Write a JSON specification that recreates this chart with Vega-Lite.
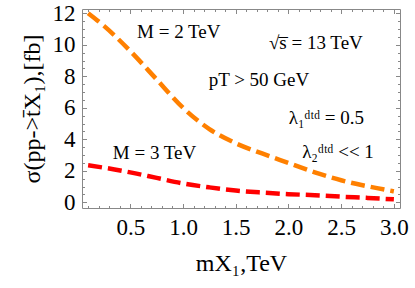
{
  "$schema": "https://vega.github.io/schema/vega-lite/v6.json",
  "width": 318,
  "height": 199,
  "autosize": {"type": "none"},
  "padding": {"left": 82, "top": 9, "right": 15, "bottom": 80},
  "background": "white",
  "config": {
    "view": {"stroke": "#888888", "strokeWidth": 1},
    "font": "Liberation Serif",
    "axis": {"grid": false, "domain": false, "tickColor": "#888888", "labelColor": "black", "titleColor": "black", "titleFontWeight": "normal", "labelFont": "Liberation Serif", "titleFont": "Liberation Serif"}
  },
  "datasets": {
    "curves": [
      {"m": 0.1, "sigma": 12.0, "series": "M = 2 TeV"},
      {"m": 0.25, "sigma": 11.2, "series": "M = 2 TeV"},
      {"m": 0.5, "sigma": 9.6, "series": "M = 2 TeV"},
      {"m": 0.75, "sigma": 7.8, "series": "M = 2 TeV"},
      {"m": 1.0, "sigma": 6.0, "series": "M = 2 TeV"},
      {"m": 1.25, "sigma": 4.65, "series": "M = 2 TeV"},
      {"m": 1.5, "sigma": 3.75, "series": "M = 2 TeV"},
      {"m": 1.75, "sigma": 3.1, "series": "M = 2 TeV"},
      {"m": 2.0, "sigma": 2.5, "series": "M = 2 TeV"},
      {"m": 2.25, "sigma": 1.9, "series": "M = 2 TeV"},
      {"m": 2.5, "sigma": 1.4, "series": "M = 2 TeV"},
      {"m": 2.75, "sigma": 1.02, "series": "M = 2 TeV"},
      {"m": 3.0, "sigma": 0.7, "series": "M = 2 TeV"},
      {"m": 0.1, "sigma": 2.35, "series": "M = 3 TeV"},
      {"m": 0.25, "sigma": 2.2, "series": "M = 3 TeV"},
      {"m": 0.5, "sigma": 1.9, "series": "M = 3 TeV"},
      {"m": 0.75, "sigma": 1.55, "series": "M = 3 TeV"},
      {"m": 1.0, "sigma": 1.2, "series": "M = 3 TeV"},
      {"m": 1.25, "sigma": 0.95, "series": "M = 3 TeV"},
      {"m": 1.5, "sigma": 0.75, "series": "M = 3 TeV"},
      {"m": 1.75, "sigma": 0.62, "series": "M = 3 TeV"},
      {"m": 2.0, "sigma": 0.52, "series": "M = 3 TeV"},
      {"m": 2.25, "sigma": 0.45, "series": "M = 3 TeV"},
      {"m": 2.5, "sigma": 0.36, "series": "M = 3 TeV"},
      {"m": 2.75, "sigma": 0.28, "series": "M = 3 TeV"},
      {"m": 3.0, "sigma": 0.19, "series": "M = 3 TeV"}
    ],
    "notes": [
      {"m": 0.96, "sigma": 10.8, "label": "M = 2 TeV"},
      {"m": 0.73, "sigma": 3.1, "label": "M = 3 TeV"},
      {"m": 2.26, "sigma": 10.1, "label": "√s̅ = 13 TeV"},
      {"m": 1.72, "sigma": 7.76, "label": "pT > 50 GeV"},
      {"m": 2.36, "sigma": 5.35, "label": "λ₁ᵈᵗᵈ = 0.5"},
      {"m": 2.47, "sigma": 3.2, "label": "λ₂ᵈᵗᵈ << 1"}
    ]
  },
  "layer": [
    {
      "data": {"name": "curves"},
      "mark": {"type": "line", "strokeWidth": 4.5, "strokeDash": [14, 6], "strokeCap": "butt", "interpolate": "monotone"},
      "encoding": {
        "x": {"field": "m", "type": "quantitative",
          "scale": {"domain": [0.042, 3.058], "nice": false, "zero": false},
          "axis": {"orient": "bottom", "values": [0.5, 1, 1.5, 2, 2.5, 3], "format": ".1f", "offset": -4.5, "tickSize": 4.5, "labelFontSize": 23, "labelPadding": 8, "labelFlush": false, "title": "mX₁,TeV", "titleFontSize": 24, "titlePadding": 12}},
        "y": {"field": "sigma", "type": "quantitative",
          "scale": {"domain": [-0.36, 12.27], "nice": false, "zero": false},
          "axis": {"orient": "left", "values": [0, 2, 4, 6, 8, 10, 12], "offset": -4.5, "tickSize": 4.5, "labelFontSize": 23, "labelPadding": 7, "labelFlush": false, "title": "σ(pp->t̄X₁),[fb]", "titleFontSize": 24, "titlePadding": 8}},
        "color": {"field": "series", "type": "nominal", "scale": {"domain": ["M = 2 TeV", "M = 3 TeV"], "range": ["#FF8000", "#FF0000"]}, "legend": null}
      }
    },
    {
      "data": {"name": "notes"},
      "mark": {"type": "text", "fontSize": 19, "align": "center", "baseline": "middle", "color": "black"},
      "encoding": {
        "x": {"field": "m", "type": "quantitative",
          "axis": {"orient": "bottom", "values": [0.1,0.2,0.3,0.4,0.6,0.7,0.8,0.9,1.1,1.2,1.3,1.4,1.6,1.7,1.8,1.9,2.1,2.2,2.3,2.4,2.6,2.7,2.8,2.9,3.0], "offset": -2.5, "tickSize": 2.5, "labels": false, "title": null}},
        "y": {"field": "sigma", "type": "quantitative",
          "axis": {"orient": "left", "values": [0.5,1,1.5,2.5,3,3.5,4.5,5,5.5,6.5,7,7.5,8.5,9,9.5,10.5,11,11.5,12], "offset": -2.5, "tickSize": 2.5, "labels": false, "title": null}},
        "text": {"field": "label", "type": "nominal"}
      }
    },
    {
      "data": {"name": "curves"},
      "mark": {"type": "point", "opacity": 0},
      "encoding": {
        "x": {"field": "m", "type": "quantitative",
          "axis": {"orient": "top", "values": [0.5, 1, 1.5, 2, 2.5, 3], "offset": -4.5, "tickSize": 4.5, "labels": false, "title": null}},
        "y": {"field": "sigma", "type": "quantitative",
          "axis": {"orient": "right", "values": [0, 2, 4, 6, 8, 10, 12], "offset": -4.5, "tickSize": 4.5, "labels": false, "title": null}}
      }
    },
    {
      "data": {"name": "curves"},
      "mark": {"type": "point", "opacity": 0},
      "encoding": {
        "x": {"field": "m", "type": "quantitative",
          "axis": {"orient": "top", "values": [0.1,0.2,0.3,0.4,0.6,0.7,0.8,0.9,1.1,1.2,1.3,1.4,1.6,1.7,1.8,1.9,2.1,2.2,2.3,2.4,2.6,2.7,2.8,2.9,3.0], "offset": -2.5, "tickSize": 2.5, "labels": false, "title": null}},
        "y": {"field": "sigma", "type": "quantitative",
          "axis": {"orient": "right", "values": [0.5,1,1.5,2.5,3,3.5,4.5,5,5.5,6.5,7,7.5,8.5,9,9.5,10.5,11,11.5,12], "offset": -2.5, "tickSize": 2.5, "labels": false, "title": null}}
      }
    }
  ],
  "resolve": {"axis": {"x": "independent", "y": "independent"}}
}
